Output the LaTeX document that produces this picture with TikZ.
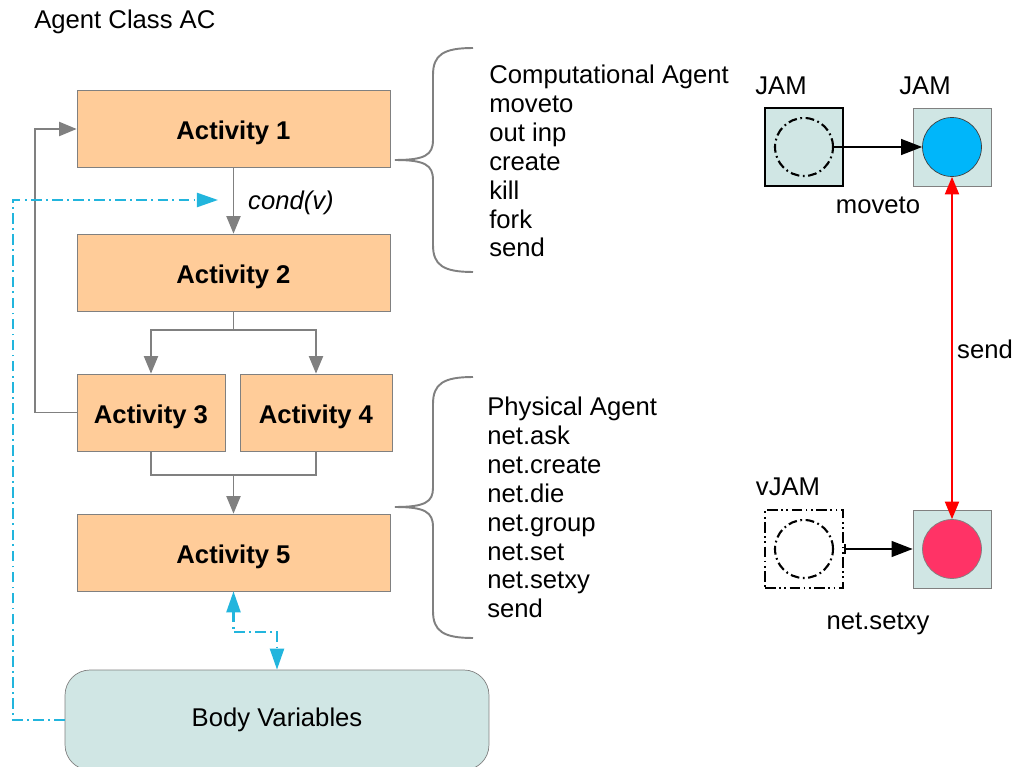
\documentclass[tikz,border=0pt]{standalone}
\usepackage{fontspec}
\setmainfont{Liberation Sans}
\usetikzlibrary{arrows.meta}
\definecolor{peach}{HTML}{FFCC99}
\definecolor{jamfill}{HTML}{D0E6E4}
\definecolor{linegray}{HTML}{808080}
\definecolor{dashcyan}{HTML}{22B5DD}
\definecolor{jamblue}{HTML}{00B6FA}
\definecolor{jamred}{HTML}{FF3366}
\begin{document}
\begin{tikzpicture}[x=0.02cm,y=-0.02cm,font=\fontsize{14.6pt}{16.4pt}\selectfont,
  act/.style={draw=linegray,fill=peach,font=\fontsize{14.6pt}{16.4pt}\selectfont\bfseries,minimum height=1.54cm,inner sep=0pt,text height=12.5pt,text depth=0pt},
  body/.style={draw=linegray,fill=jamfill,rounded corners=0.5cm,minimum width=8.48cm,minimum height=2cm},
  glines/.style={draw=linegray,line width=1.1pt},
  flow/.style={glines,-{Triangle[length=10pt,width=8pt]}},
  cyanflow/.style={draw=dashcyan,line width=1.3pt,dash pattern=on 6pt off 2.5pt on 1pt off 2.5pt},
  brace/.style={draw=linegray,line width=1.1pt},
  list/.style={anchor=north west,align=left,inner sep=0pt},
  jambox/.style={fill=jamfill,minimum size=1.56cm,inner sep=0pt},
  dotcircle/.style={circle,draw,line width=1.2pt,dash pattern=on 5pt off 2pt on 1pt off 2pt,minimum size=1.16cm,inner sep=0pt},
  ball/.style={circle,draw=darkgray,minimum size=1.18cm,inner sep=0pt},
  blackflow/.style={draw=black,line width=1.1pt,-{Triangle[length=12pt,width=9pt]}}]
\useasboundingbox (0,0) rectangle (1015,767);
\node[anchor=west,inner sep=0pt] (title) at (34,22) {Agent Class AC};
% activities
\node[act,minimum width=6.26cm] (a1) at (233.5,129) {Activity 1};
\node[act,minimum width=6.26cm] (a2) at (233.5,272.5) {Activity 2};
\node[act,minimum width=2.96cm] (a3) at (151,412.5) {Activity 3};
\node[act,minimum width=3.04cm] (a4) at (316,412.5) {Activity 4};
\node[act,minimum width=6.26cm] (a5) at (233.5,552.5) {Activity 5};
\node[body] (bv) at (277,720) {Body Variables};
\coordinate (f1) at (233.5,330);
\coordinate (j1) at (233.5,475);
\coordinate (cyend) at (218,200);
\draw[flow] (a1) -- (a2);
\node[anchor=west,font=\fontsize{14.6pt}{16.4pt}\selectfont\itshape] (cv) at (242,203) {cond(v)};
\draw[glines] (a2.south) -- (f1);
\draw[flow] (f1) -| (a3.north);
\draw[flow] (f1) -| (a4.north);
\draw[glines] (a3.south) |- (j1);
\draw[glines] (a4.south) |- (j1);
\draw[flow] (j1) -- (a5.north);
\draw[flow] (a3.west) -- ++(-42,0) |- (a1.west);
\draw[cyanflow,-{Triangle[length=12pt,width=8pt]}] (bv.west) -- ++(-52,0) |- (cyend);
\draw[cyanflow,{Triangle[length=12pt,width=8pt]}-{Triangle[length=12pt,width=8pt]}] (a5.south) -- ++(0,41) -| (bv.north);
% braces
\draw[brace] (473,48) .. controls (443,48) and (433,55) .. (433,75) -- (433,140)
  .. controls (433,155) and (425,160) .. (395,160)
  .. controls (425,160) and (433,165) .. (433,180) -- (433,245)
  .. controls (433,265) and (443,272) .. (473,272);
\draw[brace] (473,377) .. controls (443,377) and (433,384) .. (433,404) -- (433,488)
  .. controls (433,502) and (425,507) .. (395,507)
  .. controls (425,507) and (433,512) .. (433,527) -- (433,611)
  .. controls (433,631) and (443,638) .. (473,638);
\node[list] (ca) at (489,65) {Computational Agent\\moveto\\out inp\\create\\kill\\fork\\send};
\node[list] (pa) at (487,397) {Physical Agent\\net.ask\\net.create\\net.die\\net.group\\net.set\\net.setxy\\send};
% JAM nodes
\node (l1) at (781,86) {JAM};
\node (l2) at (925,86) {JAM};
\node[jambox,draw=black,line width=1.2pt] (jam1) at (804,147) {};
\node[dotcircle] (c1) at (jam1) {};
\node[jambox,draw=linegray] (jam2) at (952,147) {};
\node[ball,fill=jamblue] (c2) at (jam2) {};
\draw[blackflow] (c1.east) -- (c2.west);
\node (mv) at (878,205) {moveto};
\node (vl) at (788,487) {vJAM};
\node[jambox,draw,fill=none,line width=1.2pt,dash pattern=on 6pt off 2pt on 1pt off 2pt on 1pt off 2pt] (vjam) at (804,549) {};
\node[dotcircle] (c3) at (vjam) {};
\node[jambox,draw=linegray] (jam3) at (952,549) {};
\node[ball,draw=linegray,fill=jamred] (c4) at (jam3) {};
\draw[blackflow,{Bar[width=6pt]}-{Triangle[length=12pt,width=9pt]}] (vjam.east) -- (jam3.west);
\node (ns) at (878,624) {net.setxy};
\draw[red,line width=1.1pt,{Triangle[length=10pt,width=8pt]}-{Triangle[length=10pt,width=8pt]}] (c2.south) -- (c4.north);
\node (sd) at (985,349) {send};
\end{tikzpicture}
\end{document}
